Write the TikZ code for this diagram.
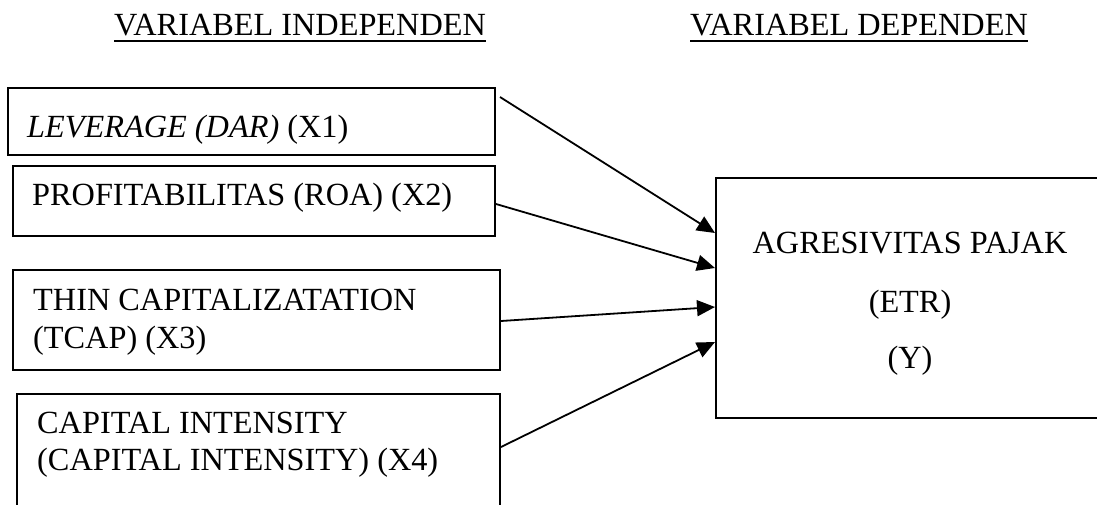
\documentclass[tikz,border=0pt]{standalone}
\usepackage{fontspec}
\setmainfont{Liberation Serif}
\usetikzlibrary{arrows.meta,calc}
\begin{document}
\begin{tikzpicture}[x=1pt,y=-1pt,
  box/.style={draw,line width=2pt,rectangle,inner sep=0pt,anchor=north west},
  txt/.style={inner sep=0pt,anchor=base west,font=\fontsize{32.3}{38}\selectfont},
  ctxt/.style={txt,anchor=base},
  uline/.style={line width=2.2pt},
  arr/.style={line width=1.8pt,-{Triangle[length=18pt,width=16pt]}}]
\useasboundingbox (0,0) rectangle (1097,504);
\clip (0,0) rectangle (1097,504);
% headings
\node[txt] (h1) at (114,35) {VARIABEL INDEPENDEN};
\draw[uline] ([yshift=-6pt]h1.base west) -- ([yshift=-6pt]h1.base east);
\node[txt] (h2) at (690,35) {VARIABEL DEPENDEN};
\draw[uline] ([yshift=-6pt]h2.base west) -- ([yshift=-6pt]h2.base east);
% independent boxes
\node[box,minimum width=487pt,minimum height=67pt] (b1) at (7,87) {};
\node[box,minimum width=482pt,minimum height=70pt] (b2) at (12,165) {};
\node[box,minimum width=487pt,minimum height=100pt] (b3) at (12,269) {};
\node[box,minimum width=483pt,minimum height=125pt] (b4) at (16,393) {};
\node[txt] (t1) at (27,137) {\textit{LEVERAGE (DAR)} (X1)};
\node[txt] (t2) at (32,205) {PROFITABILITAS (ROA) (X2)};
\node[txt] (t3a) at (33,310) {THIN CAPITALIZATATION};
\node[txt] (t3b) at (33,348) {(TCAP) (X3)};
\node[txt] (t4a) at (37,433) {CAPITAL INTENSITY};
\node[txt] (t4b) at (37,470) {(CAPITAL INTENSITY) (X4)};
% dependent box
\node[box,minimum width=390pt,minimum height=240pt] (Y) at (715,177) {};
\node[ctxt] (y1) at (910,253) {AGRESIVITAS PAJAK};
\node[ctxt] (y2) at (910,312) {(ETR)};
\node[ctxt] (y3) at (910,368) {(Y)};
% arrows
\draw[arr] ([xshift=4pt,yshift=-10pt]b1.north east) -- ([yshift=-56pt]Y.north west);
\draw[arr] ([yshift=-3pt]b2.east) -- ([yshift=-91pt]Y.north west);
\draw[arr] ([yshift=-1pt]b3.east) -- ([yshift=-130pt]Y.north west);
\draw[arr] ([yshift=-54pt]b4.north east) -- ([yshift=-165pt]Y.north west);
\end{tikzpicture}
\end{document}
